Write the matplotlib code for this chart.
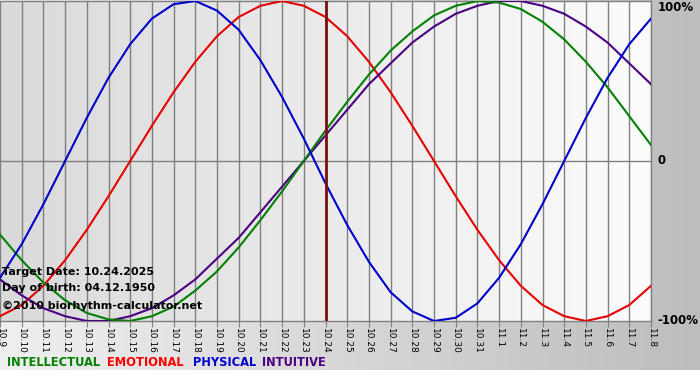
import matplotlib.pyplot as plt
import numpy as np
from matplotlib.colors import LinearSegmentedColormap
from matplotlib.transforms import blended_transform_factory

# dni na osi X (miesiąc.dzień)
dates = ["10.9", "10.10", "10.11", "10.12", "10.13", "10.14", "10.15", "10.16",
         "10.17", "10.18", "10.19", "10.20", "10.21", "10.22", "10.23", "10.24",
         "10.25", "10.26", "10.27", "10.28", "10.29", "10.30", "10.31", "11.1",
         "11.2", "11.3", "11.4", "11.5", "11.6", "11.7", "11.8"]

# wartości cykli w % odczytane dla kolejnych dni
intellectual = [-46, -62, -76, -87, -95, -99, -100, -97, -91, -81, -69, -54,
                -37, -19, 0, 19, 37, 54, 69, 81, 91, 97, 100, 99, 95, 87, 76,
                62, 46, 28, 10]
emotional = [-97, -90, -78, -62, -43, -22, 0, 22, 43, 62, 78, 90, 97, 100,
             97, 90, 78, 62, 43, 22, 0, -22, -43, -62, -78, -90, -97, -100,
             -97, -90, -78]
physical = [-73, -52, -27, 0, 27, 52, 73, 89, 98, 100, 94, 82, 63, 40, 14,
            -14, -40, -63, -82, -94, -100, -98, -89, -73, -52, -27, 0, 27, 52,
            73, 89]
intuitive = [-74, -84, -92, -97, -100, -100, -97, -92, -84, -74, -61, -48,
             -32, -16, 0, 16, 32, 48, 61, 74, 84, 92, 97, 100, 100, 97, 92, 84,
             74, 61, 48]

target_day = "10.24"
info_lines = ["Target Date: 10.24.2025", "Day of birth: 04.12.1950",
              "\u00a92010 biorhythm-calculator.net"]
legend_names = ["INTELLECTUAL", "EMOTIONAL", "PHYSICAL", "INTUITIVE"]
colors = ["#008000", "#e60000", "#0000cc", "#4b0082"]
legend_colors = ["#008000", "#ff0000", "#0000cc", "#4b0082"]

W, H = 700, 380
fig = plt.figure(figsize=(W / 100, H / 100), dpi=100)
fig.patch.set_facecolor("white")

# tło - szary gradient
bg = fig.add_axes([0, 10 / H, 1, 370 / H], zorder=-2)
bg.imshow(np.linspace(0, 1, 256)[None, :], aspect="auto",
          cmap=LinearSegmentedColormap.from_list("bg", ["#f0f0f0", "#bdbdbd"]),
          extent=[0, 1, 0, 1])
bg.axis("off")

ax = fig.add_axes([0, (H - 321) / H, 651 / W, 320 / H])
x = np.arange(len(dates))
ax.set_xlim(0, len(dates) - 1)
ax.set_ylim(-100, 100)
ax.imshow(np.linspace(0, 1, 256)[None, :], aspect="auto",
          cmap=LinearSegmentedColormap.from_list("pl", ["#dadada", "#fcfcfc"]),
          extent=[0, len(dates) - 1, -100, 100], zorder=0)

for xi in x:
    ax.axvline(xi, color="#808080", lw=1, zorder=1)
ax.axhline(0, color="#808080", lw=1, zorder=1)

series = [emotional, intuitive, intellectual, physical]
order = [1, 3, 0, 2]
for s, i in zip(series, order):
    ax.plot(x, s, color=colors[i], lw=1.5, zorder=3, solid_joinstyle="round")

ax.axvline(dates.index(target_day), color="#7a1010", lw=2, zorder=4)

for sp in ax.spines.values():
    sp.set_color("#808080")
    sp.set_linewidth(1)
ax.spines["left"].set_visible(False)

ax.set_xticks(x)
ax.set_xticklabels(dates, rotation=-90, fontsize=6.5)
ax.tick_params(axis="x", length=4, color="#808080", pad=1)
ax.set_yticks([])

tr = blended_transform_factory(ax.transAxes, ax.transData)
ax.text(1.01, 100, "100%", transform=tr, va="top", ha="left",
        fontsize=8.5, fontweight="bold", clip_on=False)
ax.text(1.01, 0, "0", transform=tr, va="center", ha="left",
        fontsize=8.5, fontweight="bold", clip_on=False)
ax.text(1.01, -100, "-100%", transform=tr, va="center", ha="left",
        fontsize=8.5, fontweight="bold", clip_on=False)

for j, line in enumerate(info_lines):
    ax.text(0.003, 0.153 - j * 0.05 - (0.007 if j == 2 else 0), line,
            transform=ax.transAxes, fontsize=8, fontweight="bold",
            va="center", ha="left", zorder=5)

legend_x = [7, 107, 193, 262]
for name, col, lx in zip(legend_names, legend_colors, legend_x):
    fig.text(lx / W, 1 - 362 / H, name, color=col, fontsize=8.3,
             fontweight="bold", va="center", ha="left")

fig.savefig("out.png", dpi=100)
